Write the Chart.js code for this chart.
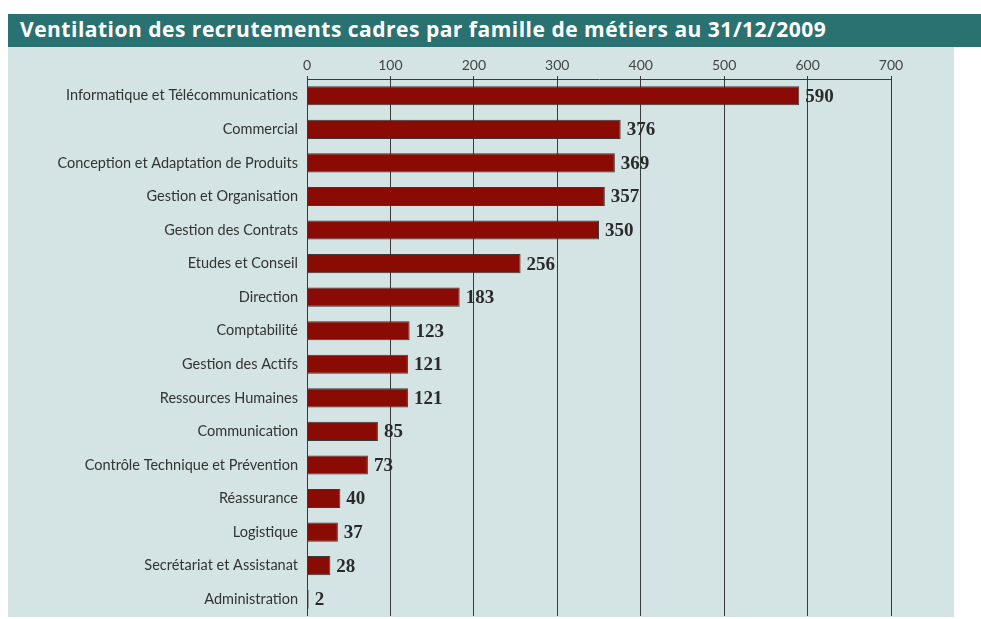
<!DOCTYPE html>
<html>
<head>
<meta charset="utf-8">
<script src="https://cdn.jsdelivr.net/npm/chart.js@4/dist/chart.umd.min.js"></script>
<style>
  body { margin: 0; background: #fff; width: 981px; height: 619px; position: relative; overflow: hidden; }
  .title {
    position: absolute; left: 8px; top: 14px; width: 973px; height: 33px;
    background: #2a7272; color: #fff;
    font: bold 21px "Open Sans", sans-serif; letter-spacing: 0.5px; line-height: 30px;
    padding-left: 12px; box-sizing: border-box; white-space: nowrap;
  }
  .panel { position: absolute; left: 8px; top: 47px; width: 946px; height: 570px; background: #d4e3e3; }
  canvas { position: absolute; left: 0; top: 0; }
</style>
</head>
<body>
<div class="title">Ventilation des recrutements cadres par famille de métiers au 31/12/2009</div>
<div class="panel"><canvas id="chart" width="946" height="570"></canvas></div>
<script>
const categories = [
  "Informatique et Télécommunications",
  "Commercial",
  "Conception et Adaptation de Produits",
  "Gestion et Organisation",
  "Gestion des Contrats",
  "Etudes et Conseil",
  "Direction",
  "Comptabilité",
  "Gestion des Actifs",
  "Ressources Humaines",
  "Communication",
  "Contrôle Technique et Prévention",
  "Réassurance",
  "Logistique",
  "Secrétariat et Assistanat",
  "Administration"
];
const recrutements = [590, 376, 369, 357, 350, 256, 183, 123, 121, 121, 85, 73, 40, 37, 28, 2];
const xTicks = [0, 100, 200, 300, 400, 500, 600, 700];

// draws the value next to each bar
const valueLabels = {
  id: 'valueLabels',
  afterDatasetsDraw(chart) {
    const ctx = chart.ctx;
    const meta = chart.getDatasetMeta(0);
    ctx.save();
    ctx.font = 'bold 19px "Liberation Serif", serif';
    ctx.fillStyle = '#2a2a2a';
    ctx.textBaseline = 'middle';
    ctx.textAlign = 'left';
    meta.data.forEach((bar, i) => {
      ctx.fillText(recrutements[i], bar.x + 6, bar.y + 1);
    });
    ctx.restore();
  }
};

new Chart(document.getElementById('chart'), {
  type: 'bar',
  data: {
    labels: categories,
    datasets: [{
      data: recrutements,
      backgroundColor: '#8a0b03',
      borderColor: '#3a3a3a',
      borderWidth: 1,
      barPercentage: 0.57,
      categoryPercentage: 1
    }]
  },
  options: {
    indexAxis: 'y',
    responsive: false,
    animation: false,
    layout: { padding: { left: 0, right: 63, top: 0, bottom: 1 } },
    plugins: { legend: { display: false }, tooltip: { enabled: false } },
    scales: {
      x: {
        position: 'top',
        min: 0,
        max: 700,
        afterBuildTicks: (scale) => { scale.ticks = xTicks.map(v => ({ value: v })); },
        afterFit: (scale) => { scale.height = 32; scale.paddingLeft = 0; scale.paddingRight = 0; },
        grid: { color: '#3a3a3a', lineWidth: 1, tickLength: 3 },
        border: { color: '#3a3a3a' },
        ticks: { color: '#444', padding: 2, font: { family: 'Lato', size: 14 } }
      },
      y: {
        afterFit: (scale) => { scale.width = 299; scale.paddingTop = 0; scale.paddingBottom = 0; },
        grid: { display: false, drawTicks: false },
        border: { display: false },
        ticks: { color: '#333', padding: 9, font: { family: 'Lato', size: 14.5 } }
      }
    }
  },
  plugins: [valueLabels]
});
</script>
</body>
</html>
